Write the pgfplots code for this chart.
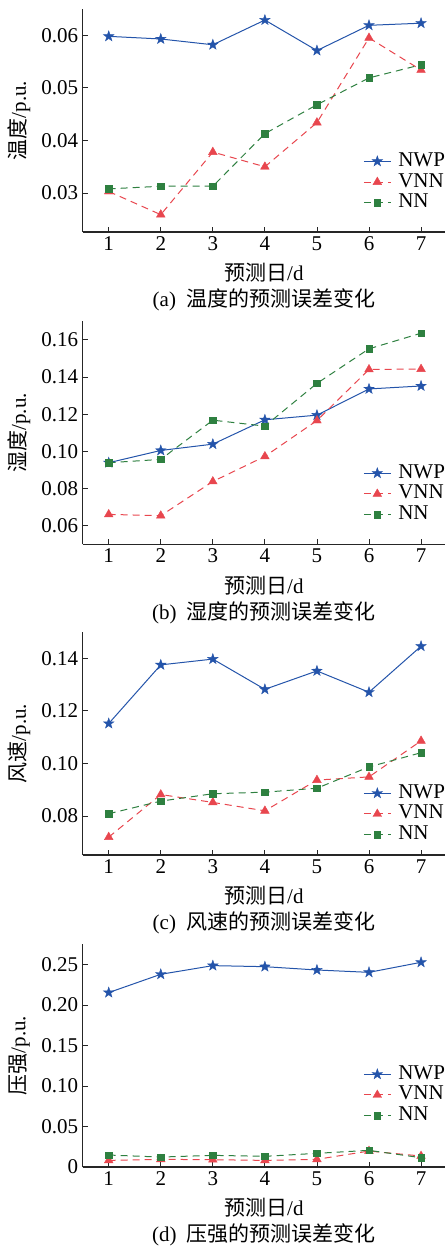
\documentclass[border=0pt]{standalone}
\usepackage{pgfplots}
\pgfplotsset{compat=1.18}
\usepackage{fontspec}
\setmainfont{Liberation Serif}
\newfontfamily\cjk{Noto Sans CJK SC}
\definecolor{nwpblue}{RGB}{36,84,170}
\definecolor{vnnred}{RGB}{232,70,78}
\definecolor{nngreen}{RGB}{46,128,64}
\pgfdeclareplotmark{fstar}{%
  \pgfpathmoveto{\pgfpointpolar{90}{1.25\pgfplotmarksize}}%
  \pgfpathlineto{\pgfpointpolar{126}{0.5\pgfplotmarksize}}%
  \pgfpathlineto{\pgfpointpolar{162}{1.25\pgfplotmarksize}}%
  \pgfpathlineto{\pgfpointpolar{198}{0.5\pgfplotmarksize}}%
  \pgfpathlineto{\pgfpointpolar{234}{1.25\pgfplotmarksize}}%
  \pgfpathlineto{\pgfpointpolar{270}{0.5\pgfplotmarksize}}%
  \pgfpathlineto{\pgfpointpolar{306}{1.25\pgfplotmarksize}}%
  \pgfpathlineto{\pgfpointpolar{342}{0.5\pgfplotmarksize}}%
  \pgfpathlineto{\pgfpointpolar{18}{1.25\pgfplotmarksize}}%
  \pgfpathlineto{\pgfpointpolar{54}{0.5\pgfplotmarksize}}%
  \pgfpathclose\pgfusepathqfillstroke}
\pgfplotsset{
  myaxis/.style={
    width=362.3bp, height=223bp, scale only axis,
    axis lines=left, axis line style={-, line width=1.1bp, black!85},
    xmin=0.5, xmax=7.46, xtick={1,2,3,4,5,6,7},
    scaled y ticks=false, scaled x ticks=false,
    tick align=inside, major tick length=5bp,
    tick style={line width=0.8bp, black!85},
    /pgf/number format/assume math mode=true,
    xlabel={{\cjk 预测日}/d},
    xlabel style={at={(axis description cs:0.5,-0.184)}, anchor=center},
    ylabel style={at={(axis description cs:-0.175,0.5)}, anchor=center},
    xticklabel style={yshift=-1bp},
    yticklabel style={xshift=-1bp},
    clip=false,
    legend style={draw=none, fill=none, inner sep=0pt, anchor=west,
      legend cell align=left,
      nodes={inner sep=0pt, text height=14bp, text depth=4bp},
      row sep=2.7bp, column sep=7bp},
    legend image code/.code={\draw[mark repeat=2,mark phase=2] plot coordinates {(0bp,0bp) (13.5bp,0bp) (27bp,0bp)};},
  },
  nwp/.style={color=nwpblue, line width=1bp, solid, mark=fstar, mark size=4.4bp, mark options={solid, line width=0.4bp}},
  vnn/.style={color=vnnred, line width=1bp, dash pattern=on 7bp off 5bp, mark=triangle*, mark size=5bp, mark options={solid, line width=0.4bp}},
  nn/.style={color=nngreen, line width=1bp, dash pattern=on 7bp off 5bp, mark=square*, mark size=3.3bp, mark options={solid, line width=0.4bp}},
}
\begin{document}
\begin{tikzpicture}[font=\fontsize{21bp}{25bp}\selectfont]
\useasboundingbox (0,0) rectangle (445bp,-1246bp);
% (a)
\begin{axis}[myaxis, at={(82.7bp,-232bp)}, anchor=south west,
  ymin=0.0226, ymax=0.065, ytick={0.03,0.04,0.05,0.06},
  yticklabels={0.03,0.04,0.05,0.06},
  ylabel={{\cjk 温度}/p.u.},
  legend style={at={(axis description cs:0.774,0.224)}}]
\addplot[nwp] coordinates {(1,0.0598)(2,0.0593)(3,0.0582)(4,0.0629)(5,0.0571)(6,0.0619)(7,0.0623)};
\addplot[vnn] coordinates {(1,0.0303)(2,0.0259)(3,0.0378)(4,0.0350)(5,0.0434)(6,0.0595)(7,0.0534)};
\addplot[nn] coordinates {(1,0.0308)(2,0.0313)(3,0.0313)(4,0.0413)(5,0.0468)(6,0.0519)(7,0.0544)};
\legend{NWP,VNN,NN}
\node at (axis description cs:0.5,-0.305) {(a)\hspace{10bp}{\cjk 温度的预测误差变化}};
\end{axis}
% (b)
\begin{axis}[myaxis, at={(82.7bp,-544.3bp)}, anchor=south west,
  ymin=0.05, ymax=0.17, ytick={0.06,0.08,0.10,0.12,0.14,0.16},
  yticklabels={0.06,0.08,0.10,0.12,0.14,0.16},
  ylabel={{\cjk 湿度}/p.u.},
  legend style={at={(axis description cs:0.774,0.226)}}]
\addplot[nwp] coordinates {(1,0.0939)(2,0.1005)(3,0.1039)(4,0.1170)(5,0.1195)(6,0.1336)(7,0.1352)};
\addplot[vnn] coordinates {(1,0.0661)(2,0.0654)(3,0.0838)(4,0.0973)(5,0.1166)(6,0.1441)(7,0.1443)};
\addplot[nn] coordinates {(1,0.0939)(2,0.0957)(3,0.1168)(4,0.1136)(5,0.1366)(6,0.1552)(7,0.1636)};
\legend{NWP,VNN,NN}
\node at (axis description cs:0.5,-0.305) {(b)\hspace{10bp}{\cjk 湿度的预测误差变化}};
\end{axis}
% (c)
\begin{axis}[myaxis, at={(82.7bp,-855bp)}, anchor=south west,
  ymin=0.0652, ymax=0.15, ytick={0.08,0.10,0.12,0.14},
  yticklabels={0.08,0.10,0.12,0.14},
  ylabel={{\cjk 风速}/p.u.},
  legend style={at={(axis description cs:0.774,0.184)}}]
\addplot[nwp] coordinates {(1,0.1152)(2,0.1375)(3,0.1397)(4,0.1282)(5,0.1352)(6,0.1271)(7,0.1446)};
\addplot[vnn] coordinates {(1,0.0720)(2,0.0882)(3,0.0852)(4,0.0820)(5,0.0937)(6,0.0949)(7,0.1086)};
\addplot[nn] coordinates {(1,0.0809)(2,0.0857)(3,0.0885)(4,0.0891)(5,0.0906)(6,0.0987)(7,0.1041)};
\legend{NWP,VNN,NN}
\node at (axis description cs:0.5,-0.305) {(c)\hspace{10bp}{\cjk 风速的预测误差变化}};
\end{axis}
% (d)
\begin{axis}[myaxis, at={(82.7bp,-1167bp)}, anchor=south west,
  ymin=0, ymax=0.2755, ytick={0,0.05,0.10,0.15,0.20,0.25},
  yticklabels={0,0.05,0.10,0.15,0.20,0.25},
  ylabel={{\cjk 压强}/p.u.},
  legend style={at={(axis description cs:0.774,0.323)}}]
\addplot[nwp] coordinates {(1,0.2155)(2,0.2381)(3,0.2488)(4,0.2475)(5,0.2434)(6,0.2405)(7,0.2529)};
\addplot[vnn] coordinates {(1,0.0082)(2,0.0095)(3,0.0090)(4,0.0082)(5,0.0095)(6,0.0197)(7,0.0136)};
\addplot[nn] coordinates {(1,0.0148)(2,0.0123)(3,0.0144)(4,0.0132)(5,0.0169)(6,0.0206)(7,0.0115)};
\legend{NWP,VNN,NN}
\node at (axis description cs:0.5,-0.305) {(d)\hspace{10bp}{\cjk 压强的预测误差变化}};
\end{axis}
\end{tikzpicture}
\end{document}
